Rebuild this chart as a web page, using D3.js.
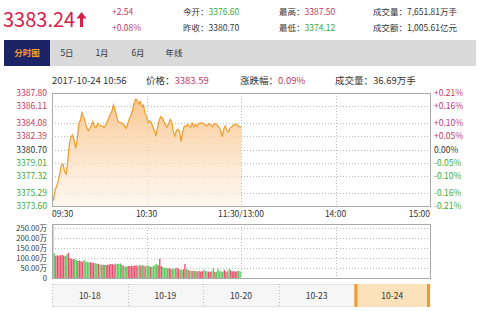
<!doctype html>
<html>
<head>
<meta charset="utf-8">
<title>分时图</title>
<script src="https://cdn.jsdelivr.net/npm/d3@7/dist/d3.min.js"></script>
<style>
  body { margin: 0; background: #fff; }
  svg text { font-family: "Noto Sans CJK SC", "Noto Sans", sans-serif; }
</style>
</head>
<body>
<script>
// data
var prevClose = 3380.70;
var priceTicks = [3387.80, 3386.11, 3384.08, 3382.39, 3380.70, 3379.01, 3377.32, 3375.29, 3373.60];
var pctTicks = ['+0.21%', '+0.16%', '+0.10%', '+0.05%', '0.00%', '-0.05%', '-0.10%', '-0.16%', '-0.21%'];
var timeLabels = ['09:30', '10:30', '11:30/13:00', '14:00', '15:00'];
var volTicks = [250, 200, 150, 100, 50, 0];
var days = ['10-18', '10-19', '10-20', '10-23', '10-24'];

// one close per minute from 09:30
var prices = [
  3374.86, 3374.44, 3375.61, 3376.11, 3376.78, 3377.70, 3378.75, 3378.88, 3377.91, 3377.62,
  3379.17, 3381.27, 3382.31, 3382.52, 3381.89, 3380.85, 3381.89, 3383.99, 3384.32, 3385.33,
  3384.83, 3384.20, 3383.49, 3383.07, 3383.36, 3383.78, 3384.20, 3383.57, 3383.49, 3383.99,
  3383.74, 3383.65, 3383.65, 3383.49, 3383.74, 3384.20, 3384.62, 3385.16, 3385.45, 3386.29,
  3385.75, 3384.83, 3384.20, 3384.07, 3384.07, 3383.90, 3383.65, 3383.36, 3383.90, 3384.49,
  3384.91, 3385.58, 3386.42, 3387.01, 3386.92, 3386.42, 3386.71, 3386.17, 3386.29, 3385.33,
  3384.83, 3384.07, 3384.32, 3384.07, 3383.57, 3383.07, 3382.40, 3383.49, 3384.32, 3384.83,
  3384.70, 3384.20, 3383.78, 3383.49, 3383.90, 3384.49, 3384.20, 3382.94, 3382.40, 3383.07,
  3383.24, 3382.94, 3381.68, 3382.94, 3383.65, 3383.57, 3383.90, 3383.65, 3383.49, 3383.99,
  3383.57, 3383.82, 3383.57, 3383.99, 3383.99, 3384.07, 3383.99, 3383.78, 3383.65, 3383.82,
  3383.90, 3383.74, 3383.57, 3383.99, 3383.90, 3383.74, 3383.49, 3383.15, 3382.31, 3383.24,
  3383.65, 3383.07, 3382.94, 3383.36, 3383.57, 3383.74, 3383.82, 3383.90, 3383.65, 3383.57,
  3383.49
];

// volume per minute, 万手
var volumes = [
  262, 123, 112, 113, 112, 114, 115, 112, 110, 118,
  126, 100, 96, 94, 95, 90, 86, 88, 84, 82,
  90, 83, 80, 78, 79, 76, 75, 74, 72, 70,
  68, 66, 67, 65, 64, 66, 68, 70, 69, 67,
  72, 70, 71, 73, 66, 60, 58, 57, 60, 59,
  61, 60, 62, 64, 58, 66, 62, 65, 60, 58,
  64, 60, 57, 55, 60, 66, 70, 64, 96, 60,
  55, 50, 52, 48, 50, 46, 44, 48, 46, 52,
  45, 42, 40, 44, 70, 45, 40, 38, 36, 35,
  37, 34, 33, 36, 32, 34, 42, 35, 33, 32,
  31, 34, 48, 30, 32, 46, 34, 33, 31, 40,
  32, 34, 45, 38, 33, 35, 31, 34, 36, 33
];

var W = 480, H = 311;
var red = '#d6204b', pink = '#c23a62', green = '#3daa3d', txt = '#333';
var up = '#e8506e', down = '#5dc95d';

var svg = d3.select('body').append('svg')
  .attr('width', W)
  .attr('height', H);

// ---- header ----
svg.append('text').attr('x', 3).attr('y', 27)
  .attr('font-size', 20).attr('fill', red).text('3383.24');
// up arrow
svg.append('path')
  .attr('d', 'M81.5,12 L86.5,18.5 L83,18.5 L83,27 L80,27 L80,18.5 L76.5,18.5 Z')
  .attr('fill', red);

function info(x, y, label, value, color, size) {
  var t = svg.append('text').attr('x', x).attr('y', y).attr('font-size', size || 8.5).attr('fill', txt);
  if (label) t.append('tspan').text(label);
  t.append('tspan').attr('fill', color).text(value);
}
info(112, 15, '', '+2.54', pink);
info(112, 31, '', '+0.08%', pink);
info(183, 15, '今开：', '3376.60', green);
info(183, 31, '昨收：', '3380.70', txt);
info(279, 15, '最高：', '3387.50', pink);
info(279, 31, '最低：', '3374.12', green);
info(373, 15, '成交量：', '7,651.81万手', txt);
info(373, 31, '成交额：', '1,005.61亿元', txt);

// ---- tabs ----
svg.append('rect').attr('x', 4).attr('y', 40).attr('width', 472).attr('height', 26).attr('fill', '#dadada');
svg.append('rect').attr('x', 4).attr('y', 40).attr('width', 46).attr('height', 26).attr('fill', '#1c2466');
var tabs = [['分时图', 27], ['5日', 67], ['1月', 102], ['6月', 138], ['年线', 174]];
svg.selectAll('.tab').data(tabs).enter().append('text')
  .attr('x', function(d) { return d[1]; })
  .attr('y', 56)
  .attr('text-anchor', 'middle')
  .attr('font-size', 8.5)
  .attr('font-weight', function(d, i) { return i === 0 ? 'bold' : 'normal'; })
  .attr('fill', function(d, i) { return i === 0 ? '#f0a030' : txt; })
  .text(function(d) { return d[0]; });

// ---- info line ----
svg.append('text').attr('x', 52).attr('y', 84).attr('font-size', 9.5).attr('fill', txt).text('2017-10-24 10:56');
info(146, 84, '价格：', '3383.59', pink, 9.5);
info(240, 84, '涨跌幅：', '0.09%', pink, 9.5);
info(335, 84, '成交量：', '36.69万手', txt, 9.5);

// ---- price chart ----
var L = 52, R = 430, T = 93, B = 206;
var x = d3.scaleLinear().domain([0, 240]).range([L, R]);
var y = d3.scaleLinear().domain([priceTicks[priceTicks.length - 1], priceTicks[0]]).range([B, T]);

var defs = svg.append('defs');
var grad = defs.append('linearGradient').attr('id', 'fill').attr('x1', 0).attr('y1', 0).attr('x2', 0).attr('y2', 1);
grad.append('stop').attr('offset', '0%').attr('stop-color', '#f9c48a').attr('stop-opacity', 0.95);
grad.append('stop').attr('offset', '100%').attr('stop-color', '#fdf1e4').attr('stop-opacity', 0.6);

svg.append('g')
  .selectAll('line')
  .data(priceTicks.slice(1, -1))
  .enter().append('line')
  .attr('x1', L).attr('x2', R)
  .attr('y1', function(d) { return Math.round(y(d)) + 0.5; })
  .attr('y2', function(d) { return Math.round(y(d)) + 0.5; })
  .attr('stroke', '#bbb').attr('stroke-dasharray', '1,2');

var vgrid = [60, 120, 180];
svg.append('g')
  .selectAll('line')
  .data(vgrid)
  .enter().append('line')
  .attr('x1', function(d) { return Math.round(x(d)) + 0.5; })
  .attr('x2', function(d) { return Math.round(x(d)) + 0.5; })
  .attr('y1', T).attr('y2', B)
  .attr('stroke', '#bbb').attr('stroke-dasharray', '1,2');

var area = d3.area()
  .x(function(d, i) { return x(i); })
  .y0(B)
  .y1(function(d) { return y(d); });
svg.append('path').datum(prices).attr('d', area).attr('fill', 'url(#fill)');

var line = d3.line()
  .x(function(d, i) { return x(i); })
  .y(function(d) { return y(d); });
svg.append('path').datum(prices).attr('d', line)
  .attr('fill', 'none').attr('stroke', '#eea032').attr('stroke-width', 1.3);

svg.append('rect').attr('x', L + 0.5).attr('y', T + 0.5).attr('width', R - L).attr('height', B - T)
  .attr('fill', 'none').attr('stroke', '#aaa');

function tickColor(v) {
  return v > prevClose ? pink : (v < prevClose ? green : txt);
}
svg.append('g').selectAll('text')
  .data(priceTicks).enter().append('text')
  .attr('x', L - 5)
  .attr('y', function(d) { return y(d) + 3; })
  .attr('text-anchor', 'end')
  .attr('font-size', 8.5)
  .attr('fill', tickColor)
  .text(function(d) { return d.toFixed(2); });

svg.append('g').selectAll('text')
  .data(pctTicks).enter().append('text')
  .attr('x', R + 4)
  .attr('y', function(d, i) { return y(priceTicks[i]) + 3; })
  .attr('font-size', 8.5)
  .attr('fill', function(d, i) { return tickColor(priceTicks[i]); })
  .text(function(d) { return d; });

svg.append('g').selectAll('text')
  .data(timeLabels).enter().append('text')
  .attr('x', function(d, i) { return x(i * 60); })
  .attr('y', 217)
  .attr('text-anchor', function(d, i) { return i === 0 ? 'start' : (i === 4 ? 'end' : 'middle'); })
  .attr('font-size', 8.5)
  .attr('fill', txt)
  .text(function(d) { return d; });

// ---- volume chart ----
var VT = 224, VB = 278;
var vy = d3.scaleLinear().domain([0, 270]).range([VB, VT]);

svg.append('g').selectAll('line')
  .data(volTicks.slice(0, -1)).enter().append('line')
  .attr('x1', L).attr('x2', R)
  .attr('y1', function(d) { return Math.round(vy(d)) + 0.5; })
  .attr('y2', function(d) { return Math.round(vy(d)) + 0.5; })
  .attr('stroke', '#bbb').attr('stroke-dasharray', '1,2');
svg.append('g').selectAll('line')
  .data(vgrid).enter().append('line')
  .attr('x1', function(d) { return Math.round(x(d)) + 0.5; })
  .attr('x2', function(d) { return Math.round(x(d)) + 0.5; })
  .attr('y1', VT).attr('y2', VB)
  .attr('stroke', '#bbb').attr('stroke-dasharray', '1,2');

var bw = x(1) - x(0);
svg.append('g').selectAll('rect')
  .data(volumes).enter().append('rect')
  .attr('x', function(d, i) { return x(i); })
  .attr('width', bw * 0.85)
  .attr('y', function(d) { return vy(d); })
  .attr('height', function(d) { return VB - vy(d); })
  .attr('fill', function(d, i) {
    if (i === 0) return up;
    return prices[i] >= prices[i - 1] ? up : down;
  });

svg.append('rect').attr('x', L + 0.5).attr('y', VT + 0.5).attr('width', R - L).attr('height', VB - VT)
  .attr('fill', 'none').attr('stroke', '#aaa');

svg.append('g').selectAll('text')
  .data(volTicks).enter().append('text')
  .attr('x', L - 5)
  .attr('y', function(d) { return vy(d) + 3; })
  .attr('text-anchor', 'end')
  .attr('font-size', 7.6)
  .attr('fill', txt)
  .text(function(d) { return d === 0 ? '0' : d.toFixed(2) + '万'; });

// ---- day navigator ----
var NT = 284, NB = 307;
var nx = d3.scaleBand().domain(days).range([L, R]);
svg.append('rect').attr('x', L).attr('y', NT).attr('width', R - L).attr('height', NB - NT)
  .attr('fill', '#f6f6f6');
svg.append('line').attr('x1', L).attr('x2', R).attr('y1', NT + 0.5).attr('y2', NT + 0.5).attr('stroke', '#e2e2e2');
svg.append('line').attr('x1', L).attr('x2', R).attr('y1', NB - 0.5).attr('y2', NB - 0.5).attr('stroke', '#e2e2e2');

var last = days[days.length - 1];
svg.append('rect').attr('x', nx(last)).attr('y', NT).attr('width', nx.bandwidth()).attr('height', NB - NT)
  .attr('fill', '#fbe2bb');
svg.append('rect').attr('x', nx(last)).attr('y', NT).attr('width', 3).attr('height', NB - NT).attr('fill', '#ee9a2e');
svg.append('rect').attr('x', nx(last) + nx.bandwidth() - 3).attr('y', NT).attr('width', 3).attr('height', NB - NT).attr('fill', '#ee9a2e');

svg.append('g').selectAll('line')
  .data(days.slice(0, -1)).enter().append('line')
  .attr('x1', function(d) { return Math.round(nx(d)) + 0.5; })
  .attr('x2', function(d) { return Math.round(nx(d)) + 0.5; })
  .attr('y1', NT).attr('y2', NB)
  .attr('stroke', '#bbb').attr('stroke-dasharray', '1,2');

svg.append('g').selectAll('text')
  .data(days).enter().append('text')
  .attr('x', function(d) { return nx(d) + nx.bandwidth() / 2; })
  .attr('y', NT + 15)
  .attr('text-anchor', 'middle')
  .attr('font-size', 8.5)
  .attr('fill', txt)
  .text(function(d) { return d; });
</script>
</body>
</html>
